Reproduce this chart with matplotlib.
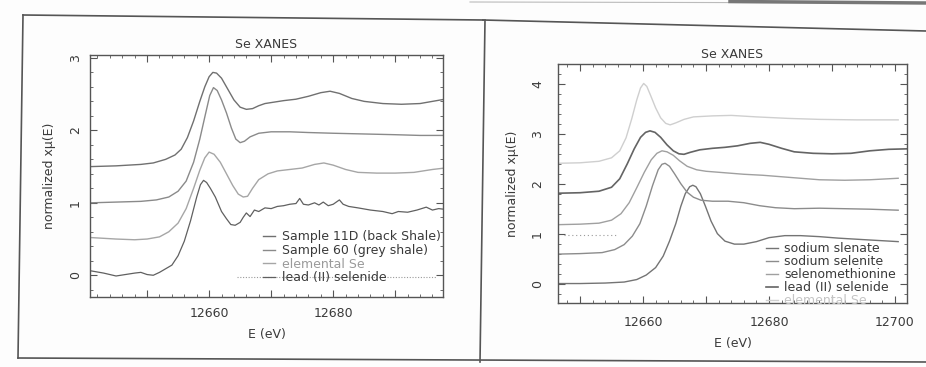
import matplotlib
matplotlib.use("Agg")
import matplotlib.pyplot as plt
from matplotlib.lines import Line2D
from matplotlib.ticker import MultipleLocator, FuncFormatter

# ---------------- data: left panel ----------------
left_labels = ["Sample 11D (back Shale)", "Sample 60 (grey shale)", "elemental Se", "lead (II) selenide"]

s11d_e = [12641, 12645, 12649, 12651, 12653, 12654.5, 12655.5, 12656.5, 12657.5, 12658.5, 12659.3, 12660,
          12660.6, 12661.2, 12662, 12663, 12664, 12665, 12666, 12667, 12668, 12669, 12670.5, 12672, 12674,
          12676, 12678, 12679.5, 12681, 12683, 12685, 12688, 12691, 12694, 12696, 12698]
s11d_mu = [1.50, 1.51, 1.53, 1.55, 1.60, 1.66, 1.74, 1.90, 2.13, 2.40, 2.60, 2.74, 2.80, 2.79, 2.72, 2.57,
           2.42, 2.32, 2.29, 2.30, 2.34, 2.37, 2.39, 2.41, 2.43, 2.47, 2.52, 2.54, 2.51, 2.44, 2.40, 2.37,
           2.36, 2.37, 2.40, 2.43]

s60_e = [12641, 12645, 12649, 12651.5, 12653.5, 12655, 12656.3, 12657.5, 12658.5, 12659.4, 12660.1, 12660.7,
         12661.3, 12662, 12662.8, 12663.6, 12664.3, 12665, 12665.7, 12666.6, 12668, 12670, 12673, 12676,
         12680, 12685, 12690, 12694, 12698]
s60_mu = [1.00, 1.01, 1.02, 1.04, 1.08, 1.16, 1.30, 1.56, 1.88, 2.22, 2.48, 2.59, 2.55, 2.42, 2.24, 2.03,
          1.88, 1.83, 1.85, 1.91, 1.96, 1.98, 1.98, 1.97, 1.96, 1.95, 1.94, 1.93, 1.93]

elSe_e = [12641, 12645, 12648, 12650, 12652, 12653.5, 12655, 12656.3, 12657.5, 12658.5, 12659.3, 12660,
          12660.8, 12661.8, 12662.8, 12663.8, 12664.7, 12665.5, 12666.2, 12667, 12668, 12669.5, 12671,
          12673, 12675, 12677, 12678.5, 12680, 12682, 12684, 12687, 12690, 12693, 12696, 12698]
elSe_mu = [0.52, 0.50, 0.49, 0.50, 0.53, 0.60, 0.72, 0.92, 1.20, 1.45, 1.62, 1.70, 1.67, 1.56, 1.40, 1.24,
           1.12, 1.08, 1.09, 1.20, 1.32, 1.40, 1.44, 1.46, 1.48, 1.53, 1.55, 1.52, 1.46, 1.42, 1.41, 1.41,
           1.42, 1.46, 1.48]

pbse_e = [12641, 12643, 12645, 12646.5, 12648, 12649, 12650, 12651, 12652, 12653, 12654, 12655, 12656,
          12657, 12658, 12658.6, 12659.1, 12659.6, 12660.2, 12661, 12662, 12662.8, 12663.5, 12664.2, 12665,
          12665.5, 12666, 12666.6, 12667.3, 12668, 12669, 12670, 12671, 12672, 12673, 12674, 12674.6,
          12675.2, 12676, 12677, 12677.7, 12678.4, 12679.2, 12680, 12681, 12681.6, 12682.5, 12684, 12686,
          12688, 12689.5, 12690.5, 12692, 12693.5, 12695, 12696, 12697, 12698]
pbse_mu = [0.06, 0.03, -0.01, 0.01, 0.03, 0.04, 0.01, 0.00, 0.04, 0.09, 0.14, 0.27, 0.47, 0.75, 1.08, 1.25,
           1.31, 1.28, 1.20, 1.08, 0.88, 0.78, 0.70, 0.69, 0.73, 0.80, 0.86, 0.81, 0.90, 0.88, 0.93, 0.92,
           0.95, 0.96, 0.98, 0.99, 1.06, 0.98, 0.97, 1.00, 0.97, 1.01, 0.96, 0.98, 1.04, 0.98, 0.95, 0.93,
           0.90, 0.88, 0.85, 0.88, 0.87, 0.90, 0.94, 0.90, 0.92, 0.91]

left_dot_e = [12664.5, 12696.8]
left_dot_mu = [-0.03, -0.03]

# ---------------- data: right panel ----------------
right_labels = ["sodium slenate", "sodium selenite", "selenomethionine", "lead (II) selenide", "elemental Se"]

r_elSe_e = [12646.5, 12650, 12653, 12655, 12656.3, 12657.3, 12658.2, 12659, 12659.6, 12660.1, 12660.6,
            12661.2, 12662, 12662.8, 12663.6, 12664.3, 12665.2, 12666.5, 12668, 12671, 12674, 12678, 12683,
            12688, 12694, 12700.5]
r_elSe_mu = [2.41, 2.42, 2.45, 2.52, 2.66, 2.92, 3.30, 3.68, 3.92, 4.01, 3.95, 3.77, 3.52, 3.32, 3.21, 3.18,
             3.22, 3.29, 3.34, 3.36, 3.37, 3.34, 3.31, 3.29, 3.28, 3.28]

r_pbse_e = [12646.5, 12650, 12653, 12655, 12656.3, 12657.5, 12658.6, 12659.6, 12660.4, 12661.1, 12661.9,
            12662.8, 12663.8, 12664.8, 12665.7, 12666.5, 12667.5, 12669, 12671, 12673, 12675, 12677, 12678.6,
            12680, 12682, 12684, 12687, 12690, 12693, 12696, 12699, 12702]
r_pbse_mu = [1.81, 1.82, 1.85, 1.93, 2.10, 2.40, 2.70, 2.93, 3.03, 3.06, 3.03, 2.93, 2.78, 2.66, 2.60, 2.59,
             2.63, 2.68, 2.71, 2.73, 2.76, 2.81, 2.83, 2.79, 2.71, 2.64, 2.61, 2.60, 2.61, 2.66, 2.69, 2.70]

r_smet_e = [12646.5, 12650, 12653, 12655, 12656.5, 12657.8, 12659, 12660.2, 12661.3, 12662.2, 12663, 12663.8,
            12664.8, 12665.8, 12667, 12668.5, 12670, 12673, 12676, 12679, 12682, 12685, 12688, 12692, 12696,
            12700.5]
r_smet_mu = [1.18, 1.19, 1.21, 1.27, 1.40, 1.62, 1.92, 2.23, 2.48, 2.61, 2.66, 2.64, 2.57, 2.46, 2.35, 2.28,
             2.25, 2.22, 2.19, 2.17, 2.14, 2.11, 2.08, 2.07, 2.08, 2.11]

r_site_e = [12646.5, 12650, 12653.5, 12655.5, 12657, 12658.3, 12659.5, 12660.5, 12661.5, 12662.4, 12663,
            12663.5, 12664.2, 12665, 12666, 12667, 12668, 12669.2, 12671, 12673.5, 12676, 12678.5, 12681,
            12684, 12688, 12692, 12696, 12700.5]
r_site_mu = [0.59, 0.60, 0.62, 0.68, 0.78, 0.95, 1.20, 1.55, 1.96, 2.28, 2.39, 2.41, 2.35, 2.20, 2.00, 1.83,
             1.73, 1.67, 1.65, 1.65, 1.62, 1.56, 1.52, 1.50, 1.51, 1.50, 1.49, 1.47]

r_sate_e = [12646.5, 12650, 12654, 12657, 12659, 12660.5, 12662, 12663.2, 12664.2, 12665.2, 12666, 12666.7,
            12667.4, 12667.9, 12668.4, 12669.1, 12669.9, 12670.8, 12671.8, 12673, 12674.5, 12676, 12678,
            12680, 12682.5, 12685, 12688, 12691, 12695, 12700.5]
r_sate_mu = [0.00, 0.00, 0.01, 0.03, 0.08, 0.17, 0.32, 0.55, 0.85, 1.20, 1.55, 1.80, 1.94, 1.97, 1.94, 1.80,
             1.55, 1.25, 1.00, 0.85, 0.79, 0.79, 0.84, 0.92, 0.96, 0.96, 0.94, 0.91, 0.88, 0.84]

right_dot_e = [12647.5, 12656]
right_dot_mu = [0.98, 0.98]

# ---------------- figure ----------------
W, H = 926, 367
fig = plt.figure(figsize=(W / 100, H / 100), dpi=100)
fig.patch.set_facecolor("#fdfdfd")
TXT = "#3a3a3a"


def fx(x):
    return x / W


def fy(y):
    return 1 - y / H


def style(ax, xlim, ylim, ypad, xpad, title_pad):
    ax.set_xlim(*xlim)
    ax.set_ylim(*ylim)
    for s in ax.spines.values():
        s.set_color("#555555")
        s.set_linewidth(1.0)
    ax.xaxis.set_major_locator(MultipleLocator(10))
    ax.xaxis.set_minor_locator(MultipleLocator(2))
    ax.yaxis.set_major_locator(MultipleLocator(1))
    ax.yaxis.set_minor_locator(MultipleLocator(0.2))
    ax.xaxis.set_major_formatter(FuncFormatter(lambda v, p: f"{v:.0f}" if round(v) % 20 == 0 else ""))
    ax.yaxis.set_major_formatter(FuncFormatter(lambda v, p: f"{v:.0f}"))
    ax.tick_params(which="both", direction="in", top=True, right=True, colors="#555555",
                   labelcolor=TXT, labelsize=9)
    ax.tick_params(which="major", length=5, width=0.8)
    ax.tick_params(which="minor", length=2.5, width=0.6)
    ax.tick_params(axis="y", pad=ypad)
    ax.tick_params(axis="x", pad=xpad)
    for t in ax.get_yticklabels():
        t.set_rotation(90)
        t.set_va("center")
    ax.set_title("Se XANES", fontsize=9, color=TXT, pad=title_pad)
    ax.set_xlabel("E (eV)", fontsize=9, color=TXT, labelpad=6)
    ax.set_ylabel("normalized x\u03bc(E)", fontsize=9, color=TXT, labelpad=9)


def color_legend(leg, colors):
    for t, c in zip(leg.get_texts(), colors):
        t.set_color(c)


# left panel
axL = fig.add_axes([fx(90), fy(297), fx(443) - fx(90), fy(55) - fy(297)])
axL.plot(s11d_e, s11d_mu, color="#707070", lw=1.0, label=left_labels[0])
axL.plot(s60_e, s60_mu, color="#8a8a8a", lw=1.0, label=left_labels[1])
axL.plot(elSe_e, elSe_mu, color="#a6a6a6", lw=1.0, label=left_labels[2])
axL.plot(pbse_e, pbse_mu, color="#606060", lw=0.9, label=left_labels[3])
axL.plot(left_dot_e, left_dot_mu, color="#9a9a9a", lw=0.8, ls=(0, (1, 1.5)))
style(axL, (12640.8, 12697.7), (-0.30, 3.04), 6, 7, 5)
legL = axL.legend(loc="upper left", bbox_to_anchor=(0.49, 0.275), frameon=False, fontsize=9,
                  handlelength=1.0, handletextpad=0.5, labelspacing=0.05, borderpad=0,
                  borderaxespad=0)
color_legend(legL, ["#3a3a3a", "#3a3a3a", "#9a9a9a", "#3a3a3a"])

# right panel
axR = fig.add_axes([fx(558), fy(303), fx(907) - fx(558), fy(64) - fy(303)])
axR.plot(r_sate_e, r_sate_mu, color="#747474", lw=1.0, label=right_labels[0])
axR.plot(r_site_e, r_site_mu, color="#8c8c8c", lw=1.0, label=right_labels[1])
axR.plot(r_smet_e, r_smet_mu, color="#a0a0a0", lw=1.0, label=right_labels[2])
axR.plot(r_pbse_e, r_pbse_mu, color="#646464", lw=1.2, label=right_labels[3])
axR.plot(r_elSe_e, r_elSe_mu, color="#cfcfcf", lw=1.0, label=right_labels[4])
axR.plot(right_dot_e, right_dot_mu, color="#9a9a9a", lw=0.8, ls=(0, (1, 2.5)))
style(axR, (12646.5, 12701.9), (-0.39, 4.40), 10, 9, 4)
legR = axR.legend(loc="upper left", bbox_to_anchor=(0.595, 0.255), frameon=False, fontsize=9,
                  handlelength=1.0, handletextpad=0.5, labelspacing=0.0, borderpad=0,
                  borderaxespad=0)
color_legend(legR, ["#3a3a3a", "#3a3a3a", "#3a3a3a", "#3a3a3a", "#c4c4c4"])

# panel frames (scanned page boxes)
frame_kw = dict(color="#555555", lw=1.2, transform=fig.transFigure)
fig.add_artist(Line2D([fx(23), fx(483)], [fy(15), fy(20)], **frame_kw))
fig.add_artist(Line2D([fx(23), fx(18)], [fy(15), fy(358)], **frame_kw))
fig.add_artist(Line2D([fx(18), fx(926)], [fy(358), fy(362)], **frame_kw))
fig.add_artist(Line2D([fx(485), fx(480)], [fy(20), fy(362)], **frame_kw))
fig.add_artist(Line2D([fx(483), fx(926)], [fy(20), fy(31)], **frame_kw))
fig.add_artist(Line2D([fx(470), fx(926)], [fy(2), fy(3)], color="#bbbbbb", lw=0.8, transform=fig.transFigure))
fig.add_artist(Line2D([fx(730), fx(926)], [fy(1.5), fy(3)], color="#777777", lw=2.5, transform=fig.transFigure))

fig.savefig("out.png", dpi=100, facecolor=fig.get_facecolor())
